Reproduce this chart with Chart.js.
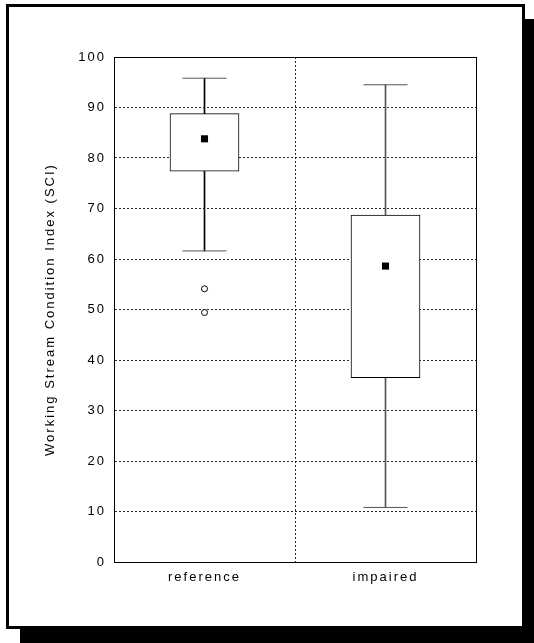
<!DOCTYPE html>
<html>
<head>
<meta charset="utf-8">
<script src="https://cdn.jsdelivr.net/npm/chart.js@4/dist/chart.umd.min.js"></script>
<style>
    html, body {
        margin: 0;
        padding: 0;
        background: #fff;
        overflow: hidden;
    }
    #frame {
        position: absolute;
        left: 6px;
        top: 4px;
        width: 519px;
        height: 625px;
        box-sizing: border-box;
        border: 3px solid #000;
        background: #fff;
        box-shadow: 14px 15px 0 #000;
    }
    #chart {
        position: absolute;
        left: 0;
        top: 0;
    }
</style>
</head>
<body>
<div id="frame"></div>
<canvas id="chart" width="534" height="643"></canvas>
<script>
// Values
const categories = ['reference', 'impaired'];
const whiskerLow = [61.6, 10.8];
const boxLow = [77.4, 36.5];
const boxHigh = [88.8, 68.7];
const whiskerHigh = [95.8, 94.5];
const medians = [83.8, 58.6];
const outlierCategory = ['reference', 'reference'];
const outlierValues = [54.1, 49.4];
const yMin = 0;
const yMax = 100;
const yStep = 10;
const yTitle = 'Working Stream Condition Index (SCI)';

const FONT = { family: '"Liberation Sans", Arial, sans-serif', size: 13 };
const GRID_COLOR = '#2a2a2a';

// canvas state gets reset, so set the spacing before measuring and drawing
const letterSpacingPlugin = {
    id: 'letterSpacing',
    beforeLayout(chart) { chart.ctx.letterSpacing = '2px'; },
    beforeDraw(chart) { chart.ctx.letterSpacing = '2px'; }
};

// solid box round the plot area
const plotFramePlugin = {
    id: 'plotFrame',
    afterDraw(chart) {
        const { ctx, chartArea } = chart;
        ctx.save();
        ctx.strokeStyle = '#000';
        ctx.lineWidth = 1;
        ctx.setLineDash([]);
        ctx.strokeRect(chartArea.left + 0.5, chartArea.top + 0.5,
            chartArea.right - chartArea.left, chartArea.bottom - chartArea.top);
        ctx.restore();
    }
};

function pairs(lows, highs) {
    return lows.map((v, i) => [v, highs[i]]);
}

function capPoints() {
    const pts = [];
    categories.forEach((c, i) => {
        pts.push({ x: c, y: whiskerLow[i] });
        pts.push({ x: c, y: whiskerHigh[i] });
    });
    return pts;
}

const datasets = [
    {
        // median markers
        type: 'line',
        data: medians,
        showLine: false,
        pointStyle: 'rect',
        pointRadius: 5,
        pointBackgroundColor: '#000',
        pointBorderWidth: 0,
        order: 0
    },
    {
        // outliers
        type: 'line',
        data: outlierValues.map((v, i) => ({ x: outlierCategory[i], y: v })),
        showLine: false,
        pointStyle: 'circle',
        pointRadius: 3,
        pointBackgroundColor: '#fff',
        pointBorderColor: '#000',
        pointBorderWidth: 1,
        order: 1
    },
    {
        // whisker caps
        type: 'line',
        data: capPoints(),
        showLine: false,
        pointStyle: 'line',
        pointRadius: 22,
        pointBorderColor: '#555',
        pointBorderWidth: 1,
        order: 2
    },
    {
        // boxes
        type: 'bar',
        data: pairs(boxLow, boxHigh),
        backgroundColor: '#fff',
        borderColor: '#000',
        borderWidth: 1,
        borderSkipped: false,
        barThickness: 69,
        grouped: false,
        order: 3
    },
    {
        // whisker stems, hidden inside the boxes
        type: 'bar',
        data: pairs(whiskerLow, whiskerHigh),
        backgroundColor: ['#000', '#555'],
        borderWidth: 0,
        barThickness: 1,
        grouped: false,
        order: 4
    }
];

new Chart(document.getElementById('chart'), {
    data: { labels: categories, datasets: datasets },
    options: {
        responsive: false,
        animation: false,
        events: [],
        layout: { padding: { left: 40, top: 57, right: 58, bottom: 51 } },
        plugins: {
            legend: { display: false },
            tooltip: { enabled: false }
        },
        scales: {
            x: {
                type: 'category',
                offset: true,
                grid: { offset: true, color: GRID_COLOR, lineWidth: 1, drawTicks: false },
                border: { display: false, dash: [2, 2] },
                ticks: { color: '#000', font: FONT, padding: 8, maxRotation: 0 },
                afterFit(scale) { scale.height = 30; }
            },
            y: {
                min: yMin,
                max: yMax,
                grid: { color: GRID_COLOR, lineWidth: 1, drawTicks: false },
                border: { display: true, color: '#000', width: 1, dash: [2, 2] },
                ticks: { stepSize: yStep, color: '#000', font: FONT, padding: 8 },
                title: {
                    display: true,
                    text: yTitle,
                    color: '#000',
                    font: FONT,
                    padding: { top: 3, bottom: 0 }
                },
                afterFit(scale) { scale.width = 74; }
            }
        }
    },
    plugins: [letterSpacingPlugin, plotFramePlugin]
});
</script>
</body>
</html>
